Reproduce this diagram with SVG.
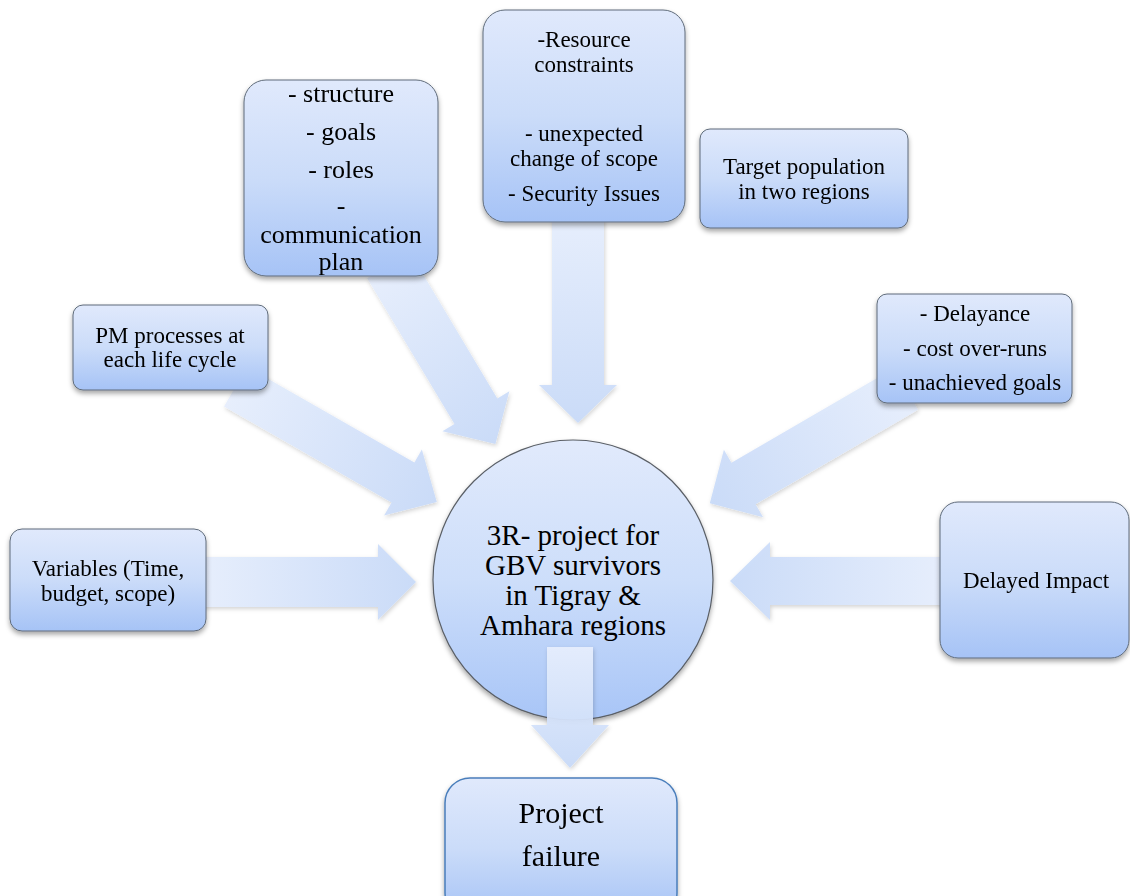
<svg xmlns="http://www.w3.org/2000/svg" width="1130" height="896" viewBox="0 0 1130 896">
<style>
text{font-family:"Liberation Serif","Times New Roman",serif;fill:#000;text-anchor:middle}
.box{fill:url(#boxg);stroke:#5f6b7a;stroke-width:1;filter:url(#sh)}
.arr{fill:url(#arrg);opacity:0.95}
.t23{font-size:23px}
.t26{font-size:26px}
.t29{font-size:29px}
.t30{font-size:30px}
</style>
<defs>
<linearGradient id="boxg" x1="0" y1="0" x2="0" y2="1">
<stop offset="0" stop-color="#e0e9fc"/>
<stop offset="0.5" stop-color="#cbdcf9"/>
<stop offset="1" stop-color="#a6c3f6"/>
</linearGradient>
<linearGradient id="circg" x1="0" y1="0" x2="0" y2="1">
<stop offset="0" stop-color="#e1eafc"/>
<stop offset="0.5" stop-color="#cddefa"/>
<stop offset="1" stop-color="#a8c5f7"/>
</linearGradient>
<linearGradient id="arrg" x1="0" y1="0" x2="1" y2="0">
<stop offset="0" stop-color="#e6eefd"/>
<stop offset="1" stop-color="#c8daf8"/>
</linearGradient>
<filter id="sh" x="-10%" y="-10%" width="125%" height="130%">
<feDropShadow dx="0" dy="3" stdDeviation="2.5" flood-color="#000" flood-opacity="0.35"/>
</filter>
<filter id="ash" x="-10%" y="-10%" width="125%" height="130%">
<feDropShadow dx="1" dy="2" stdDeviation="2" flood-color="#000" flood-opacity="0.18"/>
</filter>
</defs>
<rect width="1130" height="896" fill="#fff"/>

<g id="node-center">
<circle cx="573" cy="580" r="140" fill="url(#circg)" stroke="#5a5f66" stroke-width="1.2" filter="url(#sh)"/>
<text class="t29" x="573" y="545">3R- project for</text>
<text class="t29" x="573" y="575">GBV survivors</text>
<text class="t29" x="573" y="605">in Tigray &amp;</text>
<text class="t29" x="573" y="635">Amhara regions</text>
</g>

<g id="connectors" filter="url(#ash)">
<!-- structure box -> center -->
<polygon class="arr" transform="translate(388.6,265.4) rotate(59.1)" points="0,-25 170,-25 170,-39 208,0 170,39 170,25 0,25"/>
<!-- resource box -> center -->
<polygon class="arr" transform="translate(578,215) rotate(90)" points="0,-26 170,-26 170,-39 208,0 170,39 170,26 0,26"/>
<!-- PM -> center -->
<polygon class="arr" transform="translate(235.5,386.6) rotate(29.8)" points="0,-23 193,-23 193,-38 232,0 193,38 193,23 0,23"/>
<!-- Delayance -> center -->
<polygon class="arr" transform="translate(906,389) rotate(149.8)" points="0,-24 188,-24 188,-39 227,0 188,39 188,24 0,24"/>
<!-- Variables -> center -->
<polygon class="arr" transform="translate(200,582) rotate(0)" points="0,-25 178,-25 178,-38 216,0 178,38 178,25 0,25"/>
<!-- Delayed Impact -> center -->
<polygon class="arr" transform="translate(945,581) rotate(180)" points="0,-24 175,-24 175,-39 215,0 175,39 175,24 0,24"/>
<!-- center -> project failure -->
<polygon class="arr" transform="translate(570,647) rotate(90)" points="0,-23 78,-23 78,-39 121,0 78,39 78,23 0,23"/>
</g>

<g id="node-structure">
<rect class="box" x="244" y="80" width="194" height="196" rx="22"/>
<text class="t26" x="341" y="102">- structure</text>
<text class="t26" x="341" y="140">- goals</text>
<text class="t26" x="341" y="178">- roles</text>
<text class="t26" x="341" y="214">-</text>
<text class="t26" x="341" y="243">communication</text>
<text class="t26" x="341" y="270">plan</text>
</g>

<g id="node-resource">
<rect class="box" x="483" y="10" width="202" height="212" rx="22"/>
<text class="t23" x="584" y="47">-Resource</text>
<text class="t23" x="584" y="72">constraints</text>
<text class="t23" x="584" y="141">- unexpected</text>
<text class="t23" x="584" y="166">change of scope</text>
<text class="t23" x="584" y="201">- Security Issues</text>
</g>

<g id="node-target">
<rect class="box" x="700" y="129" width="208" height="99" rx="10"/>
<text class="t23" x="804" y="174">Target population</text>
<text class="t23" x="804" y="199">in two regions</text>
</g>

<g id="node-pm">
<rect class="box" x="73" y="305" width="195" height="85" rx="10"/>
<text class="t23" x="170" y="343">PM processes at</text>
<text class="t23" x="170" y="367">each life cycle</text>
</g>

<g id="node-delayance">
<rect class="box" x="877" y="294" width="195" height="109" rx="10"/>
<text class="t23" x="975" y="321">- Delayance</text>
<text class="t23" x="975" y="356">- cost over-runs</text>
<text class="t23" x="975" y="390">- unachieved goals</text>
</g>

<g id="node-variables">
<rect class="box" x="10" y="529" width="196" height="102" rx="12"/>
<text class="t23" x="108" y="576">Variables (Time,</text>
<text class="t23" x="108" y="601">budget, scope)</text>
</g>

<g id="node-delayed">
<rect class="box" x="940" y="502" width="189" height="156" rx="18"/>
<text class="t23" x="1036" y="588">Delayed Impact</text>
</g>

<g id="node-failure">
<rect x="445" y="778" width="232" height="140" rx="25" fill="url(#boxg)" stroke="#4a7ebb" stroke-width="1.5" filter="url(#sh)"/>
<text class="t30" x="561" y="823">Project</text>
<text class="t30" x="561" y="866">failure</text>
</g>
</svg>
